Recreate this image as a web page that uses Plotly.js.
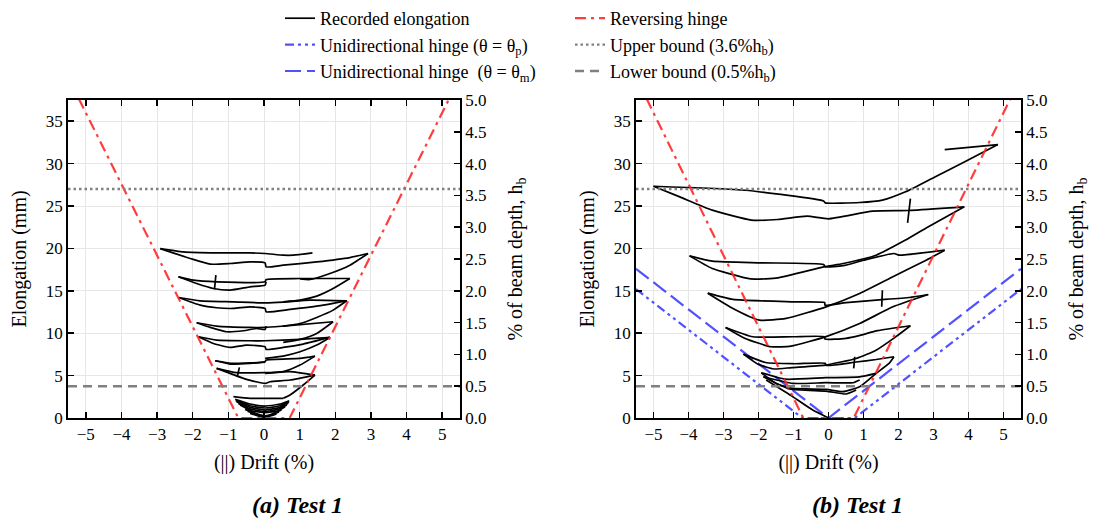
<!DOCTYPE html>
<html>
<head>
<meta charset="utf-8">
<script src="https://cdn.plot.ly/plotly-3.0.1.min.js"></script>
<style>html,body{margin:0;padding:0;background:#fff;}#chart{width:1094px;height:519px;}</style>
</head>
<body>
<div id="chart"></div>
<script>
// ---------- Axis ticks ----------
const driftTicks = [-5, -4, -3, -2, -1, 0, 1, 2, 3, 4, 5];
const elongTicks = [0, 5, 10, 15, 20, 25, 30, 35];
const pctTicks = [0, 0.5, 1.0, 1.5, 2.0, 2.5, 3.0, 3.5, 4.0, 4.5, 5.0];

// ---------- Reference lines (drift %, elongation mm) ----------
const reversingDrift = [-5.5, -0.72, 0.72, 5.5];
const reversingElong = [40.2, 0, 0, 40.2];
const uniPDrift = [-5.5, -0.75, 0.75, 5.5];
const uniPElong = [15.2, 0, 0, 15.2];
const uniMDrift = [-5.5, 0, 5.5];
const uniMElong = [17.6, 0, 17.6];
const boundDrift = [-5.5, 5.5];
const upperBound = [27, 27];
const lowerBound = [3.75, 3.75];

// ---------- Test (a): recorded elongation, [drift, elongation] ----------
const a1Upper = [[-2.91,19.98],[-2.26,19.59],[-1.33,19.47],[-0.39,19.47],[0.03,19.40],[0.54,19.20],[0.82,19.20],[1.36,19.47]];
const a1Lower = [[-2.91,19.98],[-2.07,18.81],[-1.51,18.14],[-0.95,18.22],[-0.39,18.41],[0.03,18.30],[0.06,17.82],[0.54,18.02],[1.48,18.41],[2.41,18.92],[2.92,19.40]];
const a1Rise = [[1.01,16.40],[1.29,16.33],[1.85,17.04],[2.41,18.02],[2.92,19.40]];
const a2Upper = [[-2.40,16.65],[-1.98,16.25],[-1.33,16.06],[0.03,16.06],[0.06,16.33],[1.01,16.45],[2.41,16.45]];
const a2Lower = [[-2.40,16.65],[-1.89,15.86],[-1.42,15.27],[-0.95,15.08],[-0.39,15.47],[0.03,15.67],[0.06,16.06]];
const a2Spike = [[-1.35,16.84],[-1.39,15.16]];
const a2Fall = [[2.41,16.45],[1.94,15.27],[1.48,14.37],[1.01,13.90],[0.54,13.70]];
const a3Upper = [[-2.40,14.21],[-1.79,13.82],[-0.86,13.70],[0.03,13.58],[0.54,13.66],[1.29,13.90],[2.32,13.82]];
const a3Lower = [[-2.40,14.21],[-1.79,13.31],[-1.33,13.00],[-0.86,12.92],[-0.39,13.11],[0.03,12.92],[0.06,12.52],[0.73,12.80],[1.48,13.19],[2.32,13.82]];
const a3Fall = [[2.32,13.82],[1.94,12.72],[1.48,11.86],[1.01,11.15],[0.54,10.84]];
const a4Upper = [[-1.89,11.23],[-1.33,10.84],[-0.39,10.68],[0.03,10.68],[0.54,10.84],[1.94,11.35]];
const a4Lower = [[-1.89,11.23],[-1.51,10.68],[-1.05,10.17],[-0.58,10.29],[-0.21,10.56],[0.03,10.44],[0.06,10.84]];
const a4Fall = [[1.94,11.35],[1.48,9.97],[1.01,9.27],[0.54,8.91]];
const a5Upper = [[-1.84,9.58],[-1.33,9.19],[-0.39,9.11],[0.03,9.11],[1.01,9.27],[1.85,9.50]];
const a5Lower = [[-1.84,9.58],[-1.42,8.79],[-0.95,8.32],[-0.49,8.60],[0.03,8.40],[0.06,8.09],[0.54,8.32],[1.10,8.72],[1.85,9.50]];
const a5Fall = [[1.85,9.50],[1.48,8.60],[1.01,7.81],[0.54,7.30],[0.03,7.03]];
const a6Upper = [[-1.37,6.75],[-0.86,6.44],[0.03,6.64],[0.06,6.83],[1.01,7.03],[1.43,7.30]];
const a6Lower = [[-1.37,6.75],[-0.95,6.36],[-0.39,6.44],[0.03,6.60]];
const a6Fall = [[1.43,7.30],[1.01,6.24],[0.54,5.46],[0.03,5.26]];
const a7Upper = [[-1.33,5.85],[-0.77,5.34],[0.03,5.34],[0.73,5.46],[1.43,5.06]];
const a7Lower = [[-1.33,5.85],[-0.95,5.26],[-0.49,4.55],[0.03,4.08],[0.17,4.28],[0.73,4.48],[1.43,5.06]];
const a7Spike = [[-0.69,5.97],[-0.75,4.87]];
const a7Fall = [[1.43,5.06],[1.10,3.89],[0.73,2.71],[0.54,2.32]];
const aSmallTop = [[-0.86,2.51],[-0.39,2.32],[0.54,2.32]];
const aSmall1 = [[-0.81,2.20],[-0.39,1.65],[0.03,1.41],[0.45,1.65],[0.71,2.04]];
const aSmall1b = [[-0.79,2.05],[-0.39,1.45],[0.03,1.18],[0.45,1.45],[0.70,1.90]];
const aSmall2 = [[-0.77,1.92],[-0.39,1.26],[0.03,0.94],[0.45,1.26],[0.68,1.73]];
const aSmall2b = [[-0.72,1.72],[-0.37,1.05],[0.03,0.78],[0.42,1.05],[0.64,1.52]];
const aSmall3 = [[-0.67,1.53],[-0.35,0.86],[0.03,0.63],[0.40,0.86],[0.59,1.33]];
const aSmall4 = [[-0.53,1.02],[0.03,0.24],[0.49,0.94]];
const aSmall4b = [[-0.46,0.80],[0.03,0.15],[0.42,0.70]];
const aSmall5 = [[-0.39,0.55],[0.03,0.08],[0.35,0.47]];

// ---------- Test (b): recorded elongation, [drift, elongation] ----------
const b0Top = [[3.32,31.65],[4.84,32.24]];
const b1Upper = [[-5.00,27.33],[-2.38,26.86],[-0.14,25.60],[-0.09,25.37],[0.89,25.41],[1.54,25.69],[2.20,26.67],[3.04,28.43],[3.88,30.20],[4.84,32.24]];
const b1Lower = [[-5.00,27.33],[-4.25,26.08],[-3.32,24.51],[-2.20,23.33],[-1.45,23.41],[-0.61,23.80],[0.00,23.49],[1.26,24.39],[2.29,24.47],[3.60,24.82],[3.88,24.90]];
const b1Spike = [[2.34,25.88],[2.26,23.02]];
const b2Upper = [[-3.97,19.12],[-3.32,18.49],[-1.92,18.30],[-0.14,18.10],[-0.09,17.83],[0.42,17.96],[1.00,18.60],[1.87,19.40],[2.01,19.20],[3.32,19.79]];
const b2Lower = [[-3.97,19.12],[-3.32,17.63],[-2.38,16.53],[-2.10,16.37],[-1.45,16.53],[-0.14,17.82],[0.42,18.22],[1.36,19.20],[2.20,20.98],[2.79,22.40],[3.88,24.90]];
const b3Upper = [[-3.45,14.72],[-2.73,13.98],[-1.02,13.70],[-0.11,13.62],[-0.10,13.31],[0.50,13.60],[1.36,13.90],[2.31,14.21],[2.85,14.56]];
const b3Lower = [[-3.45,14.72],[-2.73,12.92],[-1.97,11.54],[-1.21,11.74],[-0.07,13.11],[0.89,14.68],[1.84,16.65],[2.79,18.61],[3.32,19.79]];
const b3Spike = [[1.54,15.07],[1.52,13.11]];
const b4Upper = [[-2.94,10.68],[-2.16,9.58],[-1.02,9.58],[-0.11,9.58],[-0.10,9.30],[0.50,9.40],[0.90,9.75],[1.40,10.30],[2.34,10.88]];
const b4Lower = [[-2.94,10.68],[-2.38,9.38],[-1.64,8.40],[-1.07,8.48],[-0.07,9.60],[0.89,11.15],[1.84,13.11],[2.85,14.56]];
const b5Upper = [[-2.43,7.53],[-1.80,6.54],[-1.00,6.40],[-0.09,6.45],[-0.08,6.20],[0.79,6.60],[1.36,6.90],[1.87,7.22]];
const b5Lower = [[-2.43,7.53],[-2.01,6.33],[-1.56,5.78],[-1.05,5.95],[-0.09,6.24],[0.79,7.02],[1.36,8.00],[1.92,9.57],[2.34,10.88]];
const b5Spike = [[0.75,7.22],[0.72,5.85]];
const b6Upper = [[-1.92,5.34],[-1.24,4.58],[-0.08,4.75],[0.89,4.85],[1.36,5.26]];
const b6Lower = [[-1.92,5.34],[-1.50,4.08],[-1.02,3.49],[-0.07,3.38],[0.41,3.10],[0.89,3.69],[1.36,5.26],[1.73,6.43],[1.87,7.22]];
const b7Upper = [[-1.86,4.87],[-1.02,4.08],[-0.07,4.16],[0.70,4.16],[0.89,4.48]];
const b7Lower = [[-1.86,4.87],[-1.11,3.42],[-0.07,3.18],[0.50,2.83],[0.79,3.30]];
const bInitial = [[-1.78,4.48],[-1.02,2.51],[-0.45,0.94],[-0.07,0.16],[0.00,0.00]];

// ---------- helpers ----------
function joinSegments(segs) {
  const x = [], y = [];
  segs.forEach((s, i) => {
    if (i > 0) { x.push(null); y.push(null); }
    s.forEach(p => { x.push(p[0]); y.push(p[1]); });
  });
  return {x, y};
}
const aSegs = [a1Upper,a1Lower,a1Rise,a2Upper,a2Lower,a2Spike,a2Fall,a3Upper,a3Lower,a3Fall,a4Upper,a4Lower,a4Fall,
  a5Upper,a5Lower,a5Fall,a6Upper,a6Lower,a6Fall,a7Upper,a7Lower,a7Spike,a7Fall,aSmallTop,aSmall1,aSmall1b,aSmall2,aSmall2b,
  aSmall3,aSmall4,aSmall4b,aSmall5];
const bSegs = [b0Top,b1Upper,b1Lower,b1Spike,b2Upper,b2Lower,b3Upper,b3Lower,b3Spike,b4Upper,b4Lower,b5Upper,b5Lower,b5Spike,
  b6Upper,b6Lower,b7Upper,b7Lower,bInitial];
const aData = joinSegments(aSegs);
const bData = joinSegments(bSegs);

const FONT = 'Liberation Serif, Times New Roman, serif';
const red = 'rgba(255,40,40,0.9)';
const blue = 'rgba(50,50,255,0.85)';
const grey = 'rgb(128,128,128)';
const recLine = {color: 'black', width: 1.7, shape: 'spline', smoothing: 0.5};
const redLine = {color: red, width: 2.2, dash: '11px,5px,3px,5px'};
const bluePLine = {color: blue, width: 2.2, dash: '9px,4px,3px,4px,3px,4px'};
const blueMLine = {color: blue, width: 2.2, dash: '16px,6px'};
const upLine = {color: grey, width: 2.4, dash: '2.5px,3px'};
const lowLine = {color: grey, width: 2.4, dash: '9px,6px'};

const traces = [
  {x: aData.x, y: aData.y, xaxis: 'x', yaxis: 'y', mode: 'lines', line: recLine, name: 'Recorded elongation', legend: 'legend'},
  {x: uniPDrift, y: uniPElong, xaxis: 'x2', yaxis: 'y3', mode: 'lines', line: bluePLine, name: 'Unidirectional hinge (θ = θ<sub>p</sub>)', legend: 'legend'},
  {x: uniMDrift, y: uniMElong, xaxis: 'x2', yaxis: 'y3', mode: 'lines', line: blueMLine, name: 'Unidirectional hinge  (θ = θ<sub>m</sub>)', legend: 'legend'},
  {x: reversingDrift, y: reversingElong, xaxis: 'x', yaxis: 'y', mode: 'lines', line: redLine, name: 'Reversing hinge', legend: 'legend2'},
  {x: boundDrift, y: upperBound, xaxis: 'x', yaxis: 'y', mode: 'lines', line: upLine, name: 'Upper bound (3.6%h<sub>b</sub>)', legend: 'legend2'},
  {x: boundDrift, y: lowerBound, xaxis: 'x', yaxis: 'y', mode: 'lines', line: lowLine, name: 'Lower bound (0.5%h<sub>b</sub>)', legend: 'legend2'},
  {x: bData.x, y: bData.y, xaxis: 'x2', yaxis: 'y3', mode: 'lines', line: recLine, showlegend: false},
  {x: reversingDrift, y: reversingElong, xaxis: 'x2', yaxis: 'y3', mode: 'lines', line: redLine, showlegend: false},
  {x: boundDrift, y: upperBound, xaxis: 'x2', yaxis: 'y3', mode: 'lines', line: upLine, showlegend: false},
  {x: boundDrift, y: lowerBound, xaxis: 'x2', yaxis: 'y3', mode: 'lines', line: lowLine, showlegend: false},
  // invisible traces to activate the right-hand % axes
  {x: [0], y: [0], xaxis: 'x', yaxis: 'y2', mode: 'markers', marker: {opacity: 0}, showlegend: false, hoverinfo: 'skip'},
  {x: [0], y: [0], xaxis: 'x2', yaxis: 'y4', mode: 'markers', marker: {opacity: 0}, showlegend: false, hoverinfo: 'skip'}
];

const W = 1094, H = 519;
const yDom = [(H - 418) / H, (H - 100) / H];
const tickFont = {family: FONT, size: 17, color: 'black'};
const titleFont = {family: FONT, size: 20, color: 'black'};
function xAxis(dom, anchor) {
  return {domain: dom, anchor: anchor, range: [-5.5, 5.5], tickvals: driftTicks, ticks: 'inside', ticklen: 6, tickwidth: 1.5,
    tickcolor: 'black', showline: true, linecolor: 'black', linewidth: 1.8, mirror: 'ticks', showgrid: true,
    gridcolor: '#e6e6e6', gridwidth: 1, zeroline: false, tickfont: tickFont,
    title: {text: '(||) Drift (%)', font: titleFont, standoff: 12}};
}
function yAxis(anchor) {
  return {domain: yDom, anchor: anchor, range: [0, 37.5], tickvals: elongTicks, ticks: 'inside', ticklen: 6, tickwidth: 1.5,
    tickcolor: 'black', showline: true, linecolor: 'black', linewidth: 1.8, mirror: true, showgrid: true,
    gridcolor: '#e6e6e6', gridwidth: 1, zeroline: false, tickfont: tickFont,
    title: {text: 'Elongation (mm)', font: titleFont, standoff: 14}};
}
function pAxis(over, anchor) {
  return {overlaying: over, side: 'right', anchor: anchor, range: [0, 5], tickvals: pctTicks, tickformat: '.1f',
    ticks: 'inside', ticklen: 6, tickwidth: 1.5, tickcolor: 'black', showline: true, linecolor: 'black', linewidth: 1.8,
    showgrid: false, zeroline: false, tickfont: tickFont,
    title: {text: '% of beam depth, h<sub>b</sub>', font: titleFont, standoff: 22}};
}
const legendFont = {family: FONT, size: 18, color: 'black'};

const layout = {
  width: W, height: H,
  margin: {l: 0, r: 0, t: 0, b: 0},
  paper_bgcolor: 'white', plot_bgcolor: 'white',
  font: {family: FONT, color: 'black'},
  showlegend: true,
  legend: {x: 280 / W, xanchor: 'left', y: 1, yanchor: 'top', font: legendFont, bgcolor: 'rgba(0,0,0,0)', itemwidth: 30},
  legend2: {x: 570 / W, xanchor: 'left', y: 1, yanchor: 'top', font: legendFont, bgcolor: 'rgba(0,0,0,0)', itemwidth: 30},
  xaxis: xAxis([68 / W, 460 / W], 'y'),
  yaxis: yAxis('x'),
  yaxis2: pAxis('y', 'x'),
  xaxis2: xAxis([636 / W, 1021 / W], 'y3'),
  yaxis3: yAxis('x2'),
  yaxis4: pAxis('y3', 'x2'),
  annotations: [
    {text: '<b><i>(a) Test 1</i></b>', xref: 'paper', yref: 'paper', x: 297 / W, y: 1 - 505 / H, xanchor: 'center', yanchor: 'middle',
      showarrow: false, font: {family: FONT, size: 24, color: 'black'}},
    {text: '<b><i>(b) Test 1</i></b>', xref: 'paper', yref: 'paper', x: 857 / W, y: 1 - 505 / H, xanchor: 'center', yanchor: 'middle',
      showarrow: false, font: {family: FONT, size: 24, color: 'black'}}
  ]
};

Plotly.newPlot('chart', traces, layout, {displayModeBar: false, staticPlot: true});
</script>
</body>
</html>
